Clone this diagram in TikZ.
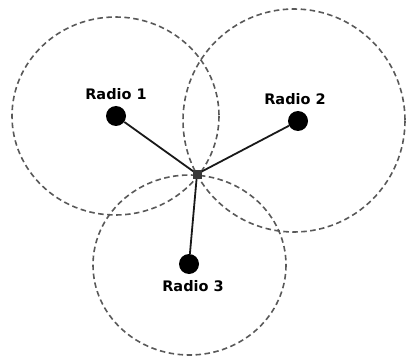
\documentclass[tikz,border=0pt]{standalone}
\usepackage{fontspec}
\setmainfont{DejaVu Sans}
\begin{document}
\begin{tikzpicture}[x=1pt,y=-1pt,
  coverage/.style={draw=black!65,line width=1.6pt,dash pattern=on 5.5pt off 3.5pt},
  radio/.style={circle,fill=black,inner sep=0pt,minimum size=20pt},
  hub/.style={rectangle,fill=black!78,inner sep=0pt,minimum size=9pt},
  lbl/.style={font=\bfseries\fontsize{14.5}{17}\selectfont,inner sep=0pt},
  link/.style={draw=black!90,line width=1.8pt}]
\useasboundingbox (0,0) rectangle (406,358);
\draw[coverage] (115.5,116) ellipse [x radius=103.5, y radius=99];
\draw[coverage] (294,120.5) ellipse [x radius=111, y radius=111.5];
\draw[coverage] (189.5,265) ellipse [x radius=96.5, y radius=90];
\node[hub] (h) at (197,174) {};
\node[radio] (r1) at (116,116) {};
\node[radio] (r2) at (298,121) {};
\node[radio] (r3) at (189,264) {};
\draw[link] (r1) -- (h.center);
\draw[link] (r2) -- (h.center);
\draw[link] (r3) -- (h.center);
\node[hub] at (197,174) {};
\node[lbl] (t1) at (116,94) {Radio 1};
\node[lbl] (t2) at (295,99) {Radio 2};
\node[lbl] (t3) at (193,286) {Radio 3};
\end{tikzpicture}
\end{document}
